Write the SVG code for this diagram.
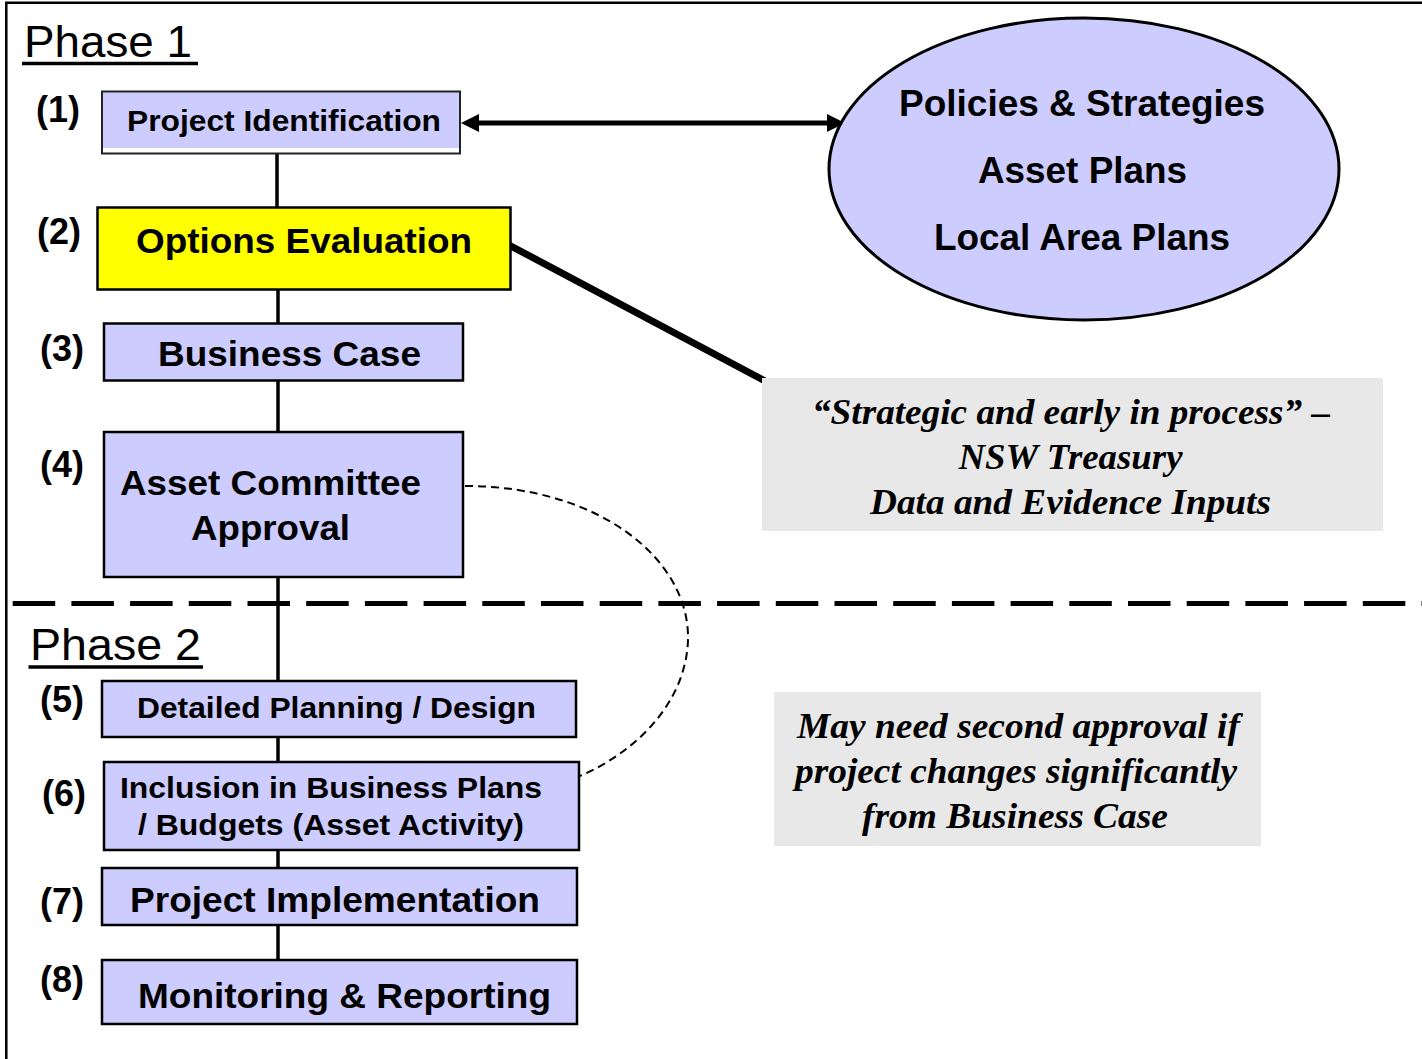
<svg xmlns="http://www.w3.org/2000/svg" width="1422" height="1059" viewBox="0 0 1422 1059">
  <style>
    .box { fill: #CCCCFF; stroke: #000; stroke-width: 2.5; }
    .lbl { font-family: "Liberation Sans", Arial, sans-serif; font-weight: bold; fill: #000; }
    .num { font-family: "Liberation Sans", Arial, sans-serif; font-weight: bold; font-size: 36px; fill: #000; }
    .phase { font-family: "Liberation Sans", Arial, sans-serif; font-size: 44px; fill: #000; }
    .note { fill: #E8E8E8; }
    .noteTxt { font-family: "Liberation Serif", "Times New Roman", serif; font-weight: bold; font-style: italic; font-size: 35px; fill: #000; text-anchor: middle; }
    .link { fill: none; stroke: #000; stroke-width: 3.5; }
  </style>
  <defs>
    <marker id="arrow" viewBox="0 0 18 18" markerWidth="18" markerHeight="18" refX="0" refY="9" markerUnits="userSpaceOnUse" orient="auto-start-reverse">
      <path d="M0,0 L18,9 L0,18 z" fill="#000"/>
    </marker>
  </defs>

  <rect width="1422" height="1059" fill="#fff"/>

  <!-- page frame -->
  <path d="M6.3,1059 V2.8 H1422" fill="none" stroke="#000" stroke-width="2.5"/>

  <!-- phase headings -->
  <g id="phase1">
    <text class="phase" x="24" y="57" textLength="168" lengthAdjust="spacingAndGlyphs">Phase 1</text>
    <line x1="22" y1="63.5" x2="198" y2="63.5" stroke="#000" stroke-width="3.5"/>
  </g>
  <g id="phase2">
    <text class="phase" x="30" y="660" textLength="171" lengthAdjust="spacingAndGlyphs">Phase 2</text>
    <line x1="28.5" y1="667" x2="203" y2="667" stroke="#000" stroke-width="3.5"/>
  </g>

  <!-- phase divider -->
  <path d="M12.7,603.5 H1422" fill="none" stroke="#000" stroke-width="5" stroke-dasharray="42.5 16.2"/>

  <!-- connectors -->
  <g id="connectors">
    <line class="link" x1="277" y1="153" x2="277" y2="208"/>
    <line class="link" x1="278" y1="289" x2="278" y2="323"/>
    <line class="link" x1="278" y1="380" x2="278" y2="432"/>
    <line class="link" x1="278" y1="577" x2="278" y2="681"/>
    <line class="link" x1="278" y1="737" x2="278" y2="762"/>
    <line class="link" x1="278" y1="850" x2="278" y2="868"/>
    <line class="link" x1="278" y1="925" x2="278" y2="960"/>
    <line x1="479" y1="123" x2="827" y2="123" stroke="#000" stroke-width="5" marker-start="url(#arrow)" marker-end="url(#arrow)"/>
    <line x1="509" y1="245" x2="765" y2="381" stroke="#000" stroke-width="7" stroke-linecap="round"/>
    <path d="M465,486 C600,486 690,560 688,640 C686,700 640,750 580,776" fill="none" stroke="#000" stroke-width="2" stroke-dasharray="8 5"/>
  </g>

  <!-- sources -->
  <g id="sources">
    <ellipse cx="1084" cy="169" rx="255" ry="151" fill="#CCCCFF" stroke="#000" stroke-width="3"/>
    <text class="lbl" font-size="36" x="1082" y="116" text-anchor="middle" textLength="366" lengthAdjust="spacingAndGlyphs">Policies &amp; Strategies</text>
    <text class="lbl" font-size="36" x="1082.5" y="183" text-anchor="middle" textLength="209" lengthAdjust="spacingAndGlyphs">Asset Plans</text>
    <text class="lbl" font-size="36" x="1082" y="250" text-anchor="middle" textLength="296" lengthAdjust="spacingAndGlyphs">Local Area Plans</text>
  </g>

  <!-- step 1 -->
  <g id="step1">
    <text class="num" x="36" y="122">(1)</text>
    <rect x="101" y="91" width="358" height="57" fill="#CCCCFF"/>
    <rect x="102" y="91.5" width="358" height="62" fill="none" stroke="#222" stroke-width="2"/>
    <text class="lbl" font-size="30" x="127" y="131" textLength="314" lengthAdjust="spacingAndGlyphs">Project Identification</text>
  </g>

  <!-- step 2 -->
  <g id="step2">
    <text class="num" x="37" y="244">(2)</text>
    <rect x="97.5" y="207.5" width="413" height="82" fill="#FFFF00" stroke="#000" stroke-width="2.5"/>
    <text class="lbl" font-size="35" x="136" y="253" textLength="336" lengthAdjust="spacingAndGlyphs">Options Evaluation</text>
  </g>

  <!-- step 3 -->
  <g id="step3">
    <text class="num" x="40" y="361">(3)</text>
    <rect class="box" x="104" y="323.5" width="359" height="57"/>
    <text class="lbl" font-size="35" x="158" y="366" textLength="263" lengthAdjust="spacingAndGlyphs">Business Case</text>
  </g>

  <!-- step 4 -->
  <g id="step4">
    <text class="num" x="40" y="477">(4)</text>
    <rect class="box" x="104" y="432" width="359" height="145"/>
    <text class="lbl" font-size="35" x="120" y="495" textLength="301" lengthAdjust="spacingAndGlyphs">Asset Committee</text>
    <text class="lbl" font-size="35" x="191" y="540" textLength="159" lengthAdjust="spacingAndGlyphs">Approval</text>
  </g>

  <!-- step 5 -->
  <g id="step5">
    <text class="num" x="40" y="712">(5)</text>
    <rect class="box" x="102" y="681" width="474" height="56"/>
    <text class="lbl" font-size="30" x="137" y="718" textLength="399" lengthAdjust="spacingAndGlyphs">Detailed Planning / Design</text>
  </g>

  <!-- step 6 -->
  <g id="step6">
    <text class="num" x="42" y="806">(6)</text>
    <rect class="box" x="104" y="762" width="475" height="88"/>
    <text class="lbl" font-size="30" x="120" y="798" textLength="422" lengthAdjust="spacingAndGlyphs">Inclusion in Business Plans</text>
    <text class="lbl" font-size="30" x="138" y="835" textLength="386" lengthAdjust="spacingAndGlyphs">/ Budgets (Asset Activity)</text>
  </g>

  <!-- step 7 -->
  <g id="step7">
    <text class="num" x="40" y="914">(7)</text>
    <rect class="box" x="102" y="868" width="475" height="57"/>
    <text class="lbl" font-size="35" x="130" y="912" textLength="410" lengthAdjust="spacingAndGlyphs">Project Implementation</text>
  </g>

  <!-- step 8 -->
  <g id="step8">
    <text class="num" x="40" y="992">(8)</text>
    <rect class="box" x="102" y="960" width="475" height="64"/>
    <text class="lbl" font-size="35" x="138" y="1008" textLength="413" lengthAdjust="spacingAndGlyphs">Monitoring &amp; Reporting</text>
  </g>

  <!-- annotation: treasury guidance -->
  <g id="note-treasury">
    <rect class="note" x="762" y="378" width="621" height="153"/>
    <text class="noteTxt" x="1071" y="424" textLength="518" lengthAdjust="spacingAndGlyphs">“Strategic and early in process” –</text>
    <text class="noteTxt" x="1070.5" y="469" textLength="224" lengthAdjust="spacingAndGlyphs">NSW Treasury</text>
    <text class="noteTxt" x="1070.5" y="514" textLength="401" lengthAdjust="spacingAndGlyphs">Data and Evidence Inputs</text>
  </g>

  <!-- annotation: re-approval -->
  <g id="note-reapproval">
    <rect class="note" x="774" y="692" width="487" height="154"/>
    <text class="noteTxt" x="1018.5" y="738" textLength="443" lengthAdjust="spacingAndGlyphs">May need second approval if</text>
    <text class="noteTxt" x="1016" y="783" textLength="442" lengthAdjust="spacingAndGlyphs">project changes significantly</text>
    <text class="noteTxt" x="1015" y="828" textLength="306" lengthAdjust="spacingAndGlyphs">from Business Case</text>
  </g>
</svg>
